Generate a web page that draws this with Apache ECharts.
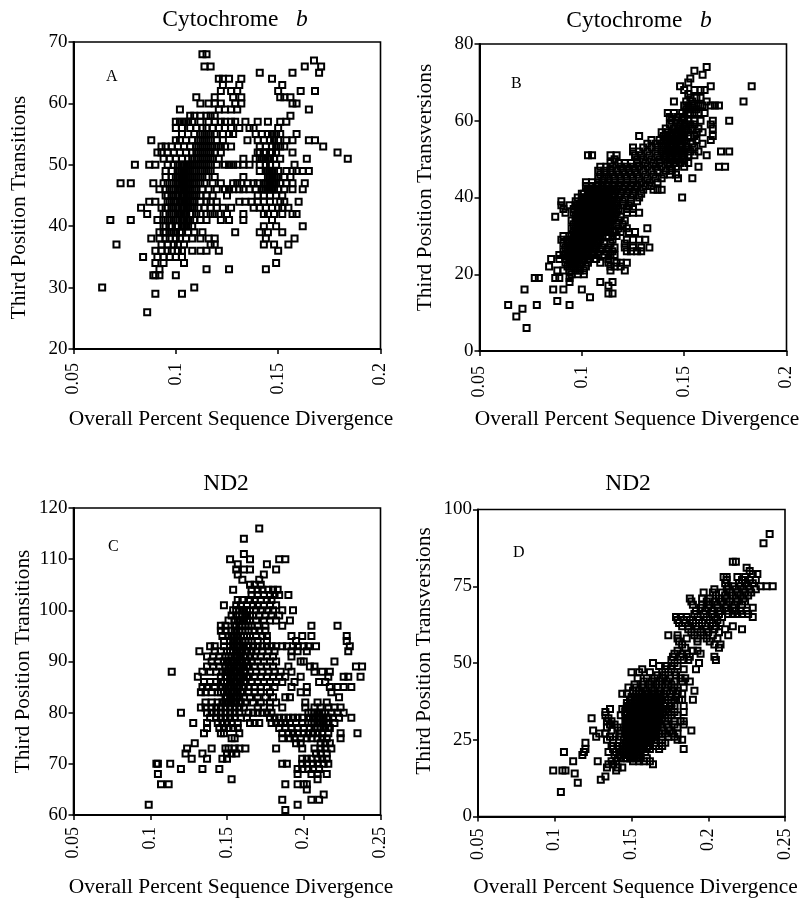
<!DOCTYPE html>
<html><head><meta charset="utf-8">
<style>html,body{margin:0;padding:0;background:#fff}#c{width:800px;height:899px}</style>
<script src="https://cdn.jsdelivr.net/npm/echarts@6/dist/echarts.min.js"></script>
</head><body><div id="c"></div>
<script>
const rowsA=[[68,[.113,.115]],[67,[.1675]],[66,[.114,.117,.163,.171]],[65,[.141,.157,.170]],[64,[.121,.123,.126,.132,.147]],[63,[.123,.131,.152]],[62,[.122,.127,.130,.150,.161,.168]],[61,[.110,.119,.128,.132,.151,.153,.156]],[60,[.112,.116,.119,.122,.129,.132,.157,.159]],[59,[.102,.121,.124,.127,.130,.165]],[58,[.107,.109,.112,.115,.117,.119,.156]],
[57,[.100,.102,.104,.106,.108,.112,.116,.119,.122,.124,.127,.129,.134,.140,.145,.151,.154]],[56,[.100,.103,.107,.110,.113,.115,.118,.121,.124,.127,.131,.136,.138,.150]],[55,[.103,.109,.112,.114,.116,.119,.123,.126,.128,.139,.142,.145,.147,.149,.151,.159]],[54,[.088,.100,.102,.105,.108,.111,.113,.115,.117,.120,.123,.135,.140,.143,.146,.148,.150,.154,.157,.165,.168]],[53,[.093,.095,.098,.101,.104,.107,.110,.112,.114,.116,.118,.120,.122,.124,.127,.141,.144,.147,.149,.151,.153,.172]],[52,[.091,.093,.096,.099,.102,.105,.108,.110,.112,.114,.116,.119,.122,.140,.143,.146,.149,.157,.179]],[51,[.094,.097,.100,.103,.106,.108,.110,.112,.114,.116,.118,.121,.133,.139,.141,.143,.145,.148,.151,.164,.184]],[50,[.080,.087,.090,.096,.099,.101,.103,.105,.107,.109,.111,.113,.115,.117,.120,.124,.126,.128,.130,.133,.136,.141,.144,.146,.149,.158]],[49,[.095,.098,.101,.103,.105,.107,.109,.112,.114,.116,.141,.144,.146,.148,.150,.154,.157,.159,.162,.165]],[48,[.095,.098,.100,.102,.104,.106,.108,.111,.113,.115,.119,.133,.145,.147,.150,.153,.156]],[47,[.073,.078,.089,.094,.096,.098,.101,.103,.105,.107,.109,.112,.114,.118,.122,.128,.130,.132,.135,.138,.140,.143,.145,.147,.149,.151,.154,.157,.163]],[46,[.092,.095,.097,.099,.102,.104,.106,.108,.110,.113,.116,.120,.124,.126,.128,.131,.133,.136,.139,.142,.144,.146,.148,.150,.153,.157,.162]],[45,[.095,.098,.100,.103,.105,.107,.109,.112,.115,.118,.125,.140,.143,.146,.149,.152]],[44,[.087,.090,.096,.098,.100,.103,.105,.107,.109,.112,.115,.117,.120,.131,.134,.137,.140,.143,.146,.151,.153,.160]],[43,[.083,.093,.096,.099,.101,.104,.106,.108,.111,.114,.117,.120,.123,.127,.138,.141,.144,.147,.150,.152,.155]],[42,[.086,.094,.097,.099,.102,.104,.107,.110,.112,.115,.117,.119,.121,.125,.133,.143,.145,.148,.152,.157,.159]],[41,[.068,.078,.091,.094,.096,.099,.101,.104,.106,.109,.112,.115,.122,.126,.133,.147]],[40,[.094,.097,.100,.103,.105,.108,.143,.149,.162]],[39,[.092,.095,.098,.100,.103,.106,.109,.113,.129,.141,.145,.152]],[38,[.088,.092,.095,.097,.100,.102,.105,.108,.112,.116,.119,.144,.158]],[37,[.071,.093,.096,.099,.101,.104,.117,.119,.143,.148,.155]],[36,[.090,.093,.096,.098,.101,.103,.108,.112,.115,.121,.150]],[35,[.084,.091,.094,.097,.100,.103]],[34,[.090,.094,.104,.149]],[33,[.092,.115,.126,.144]],[32,[.089,.090,.092,.100]],[30,[.064,.109]],[29,[.090,.103]],[26,[.086]]];
const coreA=[[55,[.113,.115,.117]],[54,[.112,.114,.116]],[53,[.111,.113,.115,.117]],[52,[.111,.113,.115,.117,.141,.144,.147]],[51,[.111,.113,.115,.117,.142,.144,.146]],[50,[.104,.106,.108,.110,.112,.114,.116]],[49,[.102,.104,.106,.108,.110,.113,.115,.117,.145,.147]],[48,[.101,.103,.105,.107,.109,.110,.112,.146,.148,.149]],[47,[.100,.102,.104,.106,.108,.110,.144,.146,.148]],[46,[.098,.101,.103,.105,.107,.109,.143,.145,.147]],[45,[.096,.099,.101,.104,.106,.108,.110]],[44,[.097,.099,.102,.104,.106,.108]],[43,[.095,.098,.100,.103,.105,.107,.109]],[42,[.095,.098,.101,.103,.105,.108]],[41,[.095,.097,.100,.103,.105,.107]],[40,[.095,.098,.101,.104,.106]],[39,[.094,.097,.099,.102]]];
const rowsB=[[74,[.161]],[73,[.155]],[72,[.159]],[71,[.153]],[70,[.152]],[69,[.148,.163,.183]],[68,[.150,.155,.158,.160]],[67,[.152]],[66,[.153,.156,.158]],[65,[.145,.151,.154,.161,.179]],[64,[.150,.152,.154,.157,.159,.163,.165,.167]],[63,[.151,.153,.156]],[62,[.142,.145,.152,.155,.157,.160]],[61,[.143,.147,.150]],[60,[.144,.146,.149,.152,.155,.158,.164,.172]],[59,[.143,.148,.150,.153,.163]],[58,[.141,.145,.147,.151,.154,.157,.164]],[57,[.139,.142,.144,.148,.150,.156,.159]],[56,[.128,.140,.143,.146,.149,.152,.155,.164]],[55,[.134,.138,.140,.142,.145,.147,.150,.156,.163]],[54,[.132,.136,.139,.141,.144,.148,.151,.154,.159]],[53,[.125,.130,.134,.137,.140,.142,.146,.149,.152,.155]],[52,[.125,.128,.132,.136,.139,.141,.143,.147,.150,.153,.157,.168,.172]],[51,[.103,.105,.114,.117,.126,.129,.133,.137,.140,.143,.146,.149,.152,.155,.161]],[50,[.116,.127,.130,.134,.138,.141,.144,.147,.150]],[49,[.114,.118,.121,.124,.127,.131,.135,.138,.142,.145,.148,.152]],[48,[.109,.112,.115,.119,.122,.125,.128,.132,.136,.139,.143,.146,.150,.157,.167,.170]],[47,[.108,.111,.114,.117,.120,.123,.126,.130,.134,.137,.141,.144]],[46,[.109,.112,.115,.118,.121,.124,.127,.131,.135,.140,.143,.146]],[45,[.108,.111,.113,.116,.119,.122,.125,.128,.132,.136,.139,.147,.154]],[44,[.102,.105,.108,.110,.113,.116,.119,.122,.125,.129,.133,.137]],[43,[.102,.105,.107,.110,.112,.115,.118,.121,.124,.127,.131,.134]],[42,[.103,.106,.108,.111,.114,.117,.120,.123,.126,.130,.135,.137,.139]],[41,[.100,.103,.105,.108,.110,.113,.116,.119,.122,.125,.129]],[40,[.098,.101,.103,.106,.108,.111,.113,.116,.118,.121,.124,.128,.149]],[39,[.090,.097,.100,.102,.105,.107,.110,.112,.115,.117,.120,.124,.127]],[38,[.090,.094,.097,.099,.102,.104,.107,.109,.112,.114,.117,.120,.123]],[37,[.091,.096,.098,.101,.103,.106,.108,.111,.113,.116,.118,.122,.125]],[36,[.092,.096,.099,.102,.104,.107,.109,.112,.114,.117,.122,.125,.128]],[35,[.087,.097,.099,.101,.104,.106,.109,.111,.114,.116,.119]],[34,[.095,.098,.100,.103,.105,.108,.110,.113,.115,.118,.121]],[33,[.096,.099,.101,.104,.106,.109,.111,.114,.117,.120]],[32,[.095,.098,.100,.103,.105,.108,.111,.114,.118,.122,.132]],[31,[.097,.100,.102,.105,.107,.110,.113,.116,.119,.123,.126]],[30,[.091,.094,.097,.099,.102,.104,.107,.110,.113,.115,.117]],[29,[.090,.093,.096,.098,.101,.103,.106,.109,.115,.122,.125,.128,.131]],[28,[.091,.094,.097,.100,.102,.105,.108,.111,.114,.121]],[27,[.092,.095,.098,.101,.104,.107,.110,.113,.116,.121,.125,.129,.133]],[26,[.091,.094,.097,.100,.103,.106,.109,.112,.115,.122,.124,.127,.129]],[25,[.089,.092,.095,.098,.101,.105,.108,.111,.114,.116]],[24,[.085,.089,.092,.095,.098,.101,.104,.107,.113]],[23,[.092,.095,.097,.100,.103,.109,.113,.117,.119,.122]],[22,[.084,.093,.096,.099,.102,.114,.116,.119]],[21,[.088,.091,.094,.097,.099,.101,.114,.121]],[20,[.095,.098,.101]],[19,[.077,.079,.087,.089,.094]],[18,[.094,.109,.115]],[17,[.113]],[16,[.072,.086,.091,.100]],[15,[.113,.115]],[14,[.104]],[13,[.088]],[12,[.064,.078,.094]],[11,[.071]],[9,[.068]],[6,[.073]]];
const coreB=[[64,[.155,.158]],[62,[.149,.153]],[59,[.151,.155]],[58,[.149]],[57,[.146,.152]],[56,[.141,.147,.150]],[54,[.143,.146,.149]],[53,[.144,.148,.151]],[52,[.142,.145,.148]],[51,[.141,.144,.147,.150]],[50,[.143,.146,.149]],[42,[.104,.107,.110,.113,.116]],[41,[.101,.104,.107,.109,.112,.115]],[40,[.100,.102,.105,.107,.110,.112,.115]],[39,[.101,.104,.106,.109,.111,.114]],[38,[.098,.101,.103,.106,.108,.111,.113,.116]],[37,[.100,.102,.105,.107,.110,.112,.115]],[36,[.098,.101,.103,.106,.108,.111,.113,.116]],[35,[.098,.100,.103,.105,.108,.110,.113,.115]],[34,[.097,.099,.102,.104,.107,.109,.112,.114]],[33,[.098,.100,.103,.105,.108,.110,.113]],[32,[.097,.099,.102,.104,.107,.109,.112]],[31,[.096,.099,.101,.104,.106,.109,.112]],[30,[.095,.098,.101,.103,.106,.109]],[29,[.095,.097,.100,.102,.105,.108]],[28,[.093,.096,.099,.101,.104,.107]],[27,[.094,.097,.100,.103,.106]],[26,[.093,.096,.099,.102,.105]],[25,[.094,.097,.100,.103]],[24,[.094,.097,.100,.103]],[23,[.094,.096,.099]],[22,[.095,.098]]];
const rowsC=[[116,[.171]],[114,[.161]],[111,[.161]],[110,[.152,.165,.184,.188]],[109,[.157,.176]],[108,[.156,.161,.165,.182]],[107,[.157,.174]],[106,[.160,.171]],[105,[.165,.168,.172]],[104,[.154,.166,.170,.173,.177,.180,.183]],[103,[.166,.170,.174,.178,.181,.184,.190]],[102,[.157,.160,.165,.168,.172,.176,.179]],[101,[.148,.156,.159,.163,.167,.170,.174,.178,.182]],[100,[.154,.158,.161,.165,.169,.172,.177,.180,.186,.193]],[99,[.153,.156,.160,.163,.167,.171,.175,.179,.184]],[98,[.151,.155,.158,.161,.165,.169,.174,.178,.182,.191]],[97,[.146,.149,.155,.158,.162,.166,.170,.175,.186,.205,.222]],[96,[.146,.149,.153,.156,.160,.164,.168,.171,.175]],[95,[.147,.151,.154,.157,.161,.165,.169,.173,.176,.192,.199,.205,.228]],[94,[.148,.152,.155,.158,.162,.166,.170,.176,.195,.228]],[93,[.139,.142,.148,.152,.155,.158,.161,.164,.167,.170,.173,.176,.179,.182,.186,.189,.193,.196,.200,.203,.208,.230]],[92,[.132,.142,.146,.150,.154,.157,.160,.163,.166,.169,.173,.177,.181,.192,.196,.202,.229]],[91,[.137,.141,.145,.149,.153,.156,.159,.162,.165,.168,.172,.176,.180,.192]],[90,[.140,.144,.148,.151,.154,.157,.160,.163,.166,.170,.174,.178,.182,.198,.200,.220]],[89,[.137,.141,.145,.149,.152,.155,.158,.161,.164,.168,.172,.176,.180,.190,.204,.207,.234,.238]],[88,[.114,.134,.139,.143,.147,.150,.153,.156,.159,.162,.165,.169,.173,.177,.181,.185,.192,.207,.212,.217]],[87,[.131,.146,.149,.152,.155,.158,.161,.164,.168,.172,.176,.180,.184,.188,.198,.216,.226,.229,.237]],[86,[.135,.139,.143,.146,.150,.153,.156,.159,.162,.166,.170,.174,.178,.182,.186,.194,.210,.214]],[85,[.134,.137,.142,.146,.149,.152,.155,.158,.161,.164,.168,.172,.176,.181,.192,.202,.217,.222,.226,.231]],[84,[.133,.136,.140,.144,.148,.151,.154,.157,.160,.164,.168,.172,.178,.198,.202,.218]],[83,[.149,.152,.155,.158,.161,.165,.170,.175,.180,.188,.191,.223]],[82,[.136,.140,.144,.147,.150,.153,.156,.159,.162,.167,.172,.178,.182,.201,.209,.215]],[81,[.133,.136,.140,.143,.146,.149,.152,.155,.158,.161,.170,.174,.178,.186,.201,.207,.211,.216,.220,.224]],[80,[.120,.137,.140,.143,.146,.149,.152,.155,.158,.164,.167,.170,.173,.176,.179,.203,.207,.210,.214,.218,.222,.226]],[79,[.139,.143,.146,.149,.152,.155,.159,.163,.178,.181,.184,.187,.190,.193,.196,.199,.204,.207,.210,.213,.216,.219,.223,.231]],[78,[.128,.137,.144,.147,.150,.153,.157,.165,.168,.171,.179,.182,.185,.188,.191,.195,.199,.203,.207,.210,.213,.216,.220]],[77,[.137,.145,.148,.151,.154,.157,.184,.188,.192,.196,.200,.204,.207,.211,.214,.217]],[76,[.135,.146,.148,.158,.186,.190,.193,.196,.200,.203,.206,.209,.212,.216,.224,.235]],[75,[.153,.155,.186,.191,.194,.198,.202,.205,.209,.212,.215,.224]],[74,[.129,.195,.198,.211,.214,.217]],[73,[.124,.140,.149,.151,.155,.158,.162,.182,.199,.207,.211,.214,.218]],[72,[.123,.134,.150,.153,.156,.208,.211,.215]],[71,[.127,.137,.147,.150,.199,.202,.205,.209,.212,.215]],[70,[.104,.105,.113,.186,.189,.199,.202,.206,.209,.213,.216]],[69,[.120,.134,.145,.196,.199,.203,.206,.210]],[68,[.105,.196,.205,.209,.215]],[67,[.153,.209]],[66,[.107,.112,.188,.196,.200,.202]],[65,[.202]],[64,[.213]],[63,[.186,.205,.210]],[62,[.099,.196]],[61,[.188]]];
const coreC=[[100,[.156,.160,.163]],[99,[.158,.162,.165]],[98,[.157,.160,.163]],[97,[.156,.160,.164]],[96,[.155,.158,.162]],[95,[.153,.156,.159,.163]],[94,[.154,.157,.160,.164]],[93,[.154,.157,.160,.163]],[92,[.152,.156,.159,.162]],[91,[.151,.155,.158,.161]],[90,[.150,.153,.156,.159,.162]],[89,[.151,.154,.157,.160,.163]],[88,[.149,.152,.155,.158,.161]],[87,[.150,.154,.157,.160,.163]],[86,[.148,.152,.155,.158,.161]],[85,[.147,.151,.154,.157,.160]],[84,[.146,.150,.153,.156,.159]],[83,[.150,.153,.156]],[82,[.149,.152,.155,.158]],[80,[.205,.209,.212]],[79,[.206,.209,.212,.215]],[78,[.205,.209,.212,.215]],[77,[.209,.213,.216]]];
const rowsD=[[92,[.240]],[89,[.236]],[83,[.216,.218]],[81,[.225]],[80,[.227]],[79,[.229,.232]],[78,[.210,.212,.219,.224]],[77,[.212,.222,.227,.231]],[76,[.211,.220,.224,.229]],[75,[.213,.216,.221,.226,.234,.238,.242]],[74,[.204,.212,.218,.223,.227,.231]],[73,[.197,.203,.209,.214,.219,.224,.228]],[72,[.205,.211,.216,.221,.226]],[71,[.188,.196,.201,.207,.212,.218,.223]],[70,[.189,.199,.204,.209,.214,.219,.224]],[69,[.190,.196,.201,.206,.212,.217,.222]],[68,[.195,.200,.206,.211,.216,.229]],[67,[.192,.198,.203,.208,.213,.218,.221,.225]],[66,[.191,.197,.202,.207,.213,.216,.219,.222,.226]],[65,[.179,.182,.186,.193,.199,.204,.209,.229]],[64,[.180,.184,.188,.194,.201,.206]],[63,[.181,.185,.190,.196,.203,.208]],[62,[.183,.187,.192,.198,.205,.216]],[61,[.187,.193,.199,.204,.211,.222]],[60,[.189,.195,.200,.207]],[59,[.174,.180,.191,.197,.203,.213]],[58,[.180,.186,.193,.199,.206]],[57,[.181,.193,.201]],[56,[.183,.204,.208]],[55,[.185,.207]],[54,[.180,.190,.193]],[53,[.178,.183,.186,.195]],[52,[.177,.182,.188,.204]],[51,[.176,.184,.187,.205]],[50,[.164,.178,.194]],[49,[.168,.173,.176,.180]],[48,[.157,.172,.176,.184,.192]],[47,[.150,.155,.162,.170,.178]],[46,[.167,.172,.179]],[45,[.154,.160,.165,.170,.175,.182,.185]],[44,[.158,.163,.168,.173,.178,.183,.188]],[43,[.152,.157,.161,.166,.170,.174,.176]],[42,[.148,.153,.158,.163,.168,.172,.178,.184]],[41,[.151,.155,.160,.165,.169,.173,.177,.180,.191]],[40,[.144,.147,.153,.157,.161,.165,.168,.171,.175,.180,.183]],[39,[.150,.154,.158,.162,.166,.169,.172,.176,.179]],[38,[.149,.152,.155,.158,.161,.164,.167,.170,.174,.178,.181,.183,.190]],[37,[.147,.150,.153,.156,.159,.162,.165,.168,.172,.176]],[36,[.148,.151,.154,.157,.160,.163,.166,.169,.172,.175,.178,.184]],[35,[.136,.144,.147,.150,.153,.155,.158,.161,.164,.167,.170,.173,.176]],[34,[.133,.146,.149,.152,.154,.157,.159,.162,.165,.168,.171,.174,.178,.184]],[33,[.133,.143,.146,.149,.151,.153,.155,.158,.160,.163,.166,.169,.172,.176,.180]],[32,[.124,.135,.147,.150,.152,.154,.156,.159,.161,.164,.167,.170,.174]],[31,[.134,.137,.146,.149,.151,.153,.155,.157,.160,.162,.165,.168,.172,.178,.182,.184]],[30,[.136,.139,.147,.149,.152,.154,.156,.158,.161,.163,.166,.169,.173,.178,.184]],[29,[.134,.141,.146,.148,.150,.153,.155,.157,.159,.162,.164,.167,.170,.174,.180]],[28,[.125,.137,.143,.147,.149,.151,.154,.156,.158,.160,.163,.166,.170,.175,.189]],[27,[.129,.133,.142,.146,.149,.151,.153,.155,.157,.160,.162,.165,.168,.172,.177,.180]],[26,[.127,.136,.143,.147,.149,.151,.153,.155,.158,.160,.163,.166,.170,.174,.178]],[25,[.134,.138,.145,.148,.150,.152,.154,.157,.159,.162,.165,.170,.180,.183]],[24,[.120,.138,.146,.149,.151,.153,.155,.158,.161,.165,.172]],[23,[.137,.141,.144,.147,.150,.152,.154,.157,.160,.166,.170]],[22,[.120,.138,.142,.145,.148,.150,.153,.156,.162,.168,.184]],[21,[.106,.119,.135,.140,.143,.146,.149,.152,.155,.159]],[20,[.118,.139,.142,.145,.148,.151,.154]],[19,[.141,.146,.149,.152,.155,.160]],[18,[.112,.128,.137,.140,.151,.155,.158,.162]],[17,[.135,.138,.164]],[16,[.134,.141,.144]],[15,[.099,.105,.107,.140]],[14,[.113]],[13,[.133]],[12,[.130]],[11,[.115]],[8,[.104]]];
const coreD=[[40,[.155,.159,.163,.167]],[39,[.152,.156,.160,.164,.168]],[38,[.150,.153,.156,.159,.162,.165,.169]],[37,[.149,.152,.155,.158,.160,.163,.166]],[36,[.147,.150,.153,.155,.158,.161,.164,.167]],[35,[.146,.149,.151,.154,.156,.159,.162,.165,.168]],[34,[.147,.150,.153,.155,.158,.160,.163,.166]],[33,[.147,.150,.152,.154,.156,.159,.161,.164,.167]],[32,[.148,.151,.153,.155,.157,.160,.162,.165,.168]],[31,[.147,.150,.152,.154,.156,.158,.161,.163,.166]],[30,[.148,.150,.153,.155,.157,.159,.162,.164,.167]],[29,[.147,.149,.151,.154,.156,.158,.160,.163,.165]],[28,[.148,.150,.152,.155,.157,.159,.161,.164]],[27,[.147,.150,.152,.154,.156,.158,.161,.163]],[26,[.148,.150,.152,.154,.156,.159,.161,.164]],[25,[.147,.149,.151,.153,.155,.158,.160,.163]],[24,[.148,.150,.152,.154,.156,.159,.162]],[23,[.148,.151,.153,.155,.158,.161]],[22,[.149,.151,.154,.157,.160]],[21,[.147,.150,.153,.156]],[20,[.146,.149,.152,.155]],[19,[.143,.147,.150,.153]]];

const FONT='"Liberation Serif","Times New Roman",serif';
const xName='Overall Percent Sequence Divergence';
const panels=[
 {rows:rowsA.concat(coreA),letter:'A',title:'cyt',yName:'Third Position Transitions',left:73.5,top:42,xMin:.05,xMax:.2,yMin:20,yMax:70,yStep:10,tx:230,ty:3,lx:112,ly:77,yPad:[0,24,0,0],yGap:44,xGap:60,xMargin:14},
 {rows:rowsB.concat(coreB),letter:'B',title:'cyt',yName:'Third Position Transversions',left:479.5,top:44,xMin:.05,xMax:.2,yMin:0,yMax:80,yStep:20,tx:634,ty:4,lx:517,ly:84,yPad:[0,0,0,20],yGap:44,xGap:58,xMargin:15},
 {rows:rowsC.concat(coreC),letter:'C',title:'ND2',yName:'Third Position Transitions',left:73.5,top:508,xMin:.05,xMax:.25,yMin:60,yMax:120,yStep:10,tx:221,ty:467,lx:114,ly:547,yPad:[0,0,0,0],yGap:40,xGap:62,xMargin:12},
 {rows:rowsD.concat(coreD),letter:'D',title:'ND2',yName:'Third Position Transversions',left:478,top:509.5,xMin:.05,xMax:.25,yMin:0,yMax:100,yStep:25,tx:623,ty:467,lx:519,ly:553,yPad:[0,0,0,24],yGap:43,xGap:60,xMargin:12}
];
const SIZE=307;
const option={animation:false,backgroundColor:'#fff',
 title:panels.map(p=>({left:p.tx,top:p.ty,textAlign:'center',
   text:p.title==='cyt'?'{n|Cytochrome}{s|   }{i|b}':'{n|ND2}',
   textStyle:{fontWeight:'normal',rich:{n:{fontFamily:FONT,fontSize:23.5,fontWeight:'normal',color:'#000'},s:{fontFamily:FONT,fontSize:23.5,fontWeight:'normal'},i:{fontFamily:FONT,fontSize:23.5,fontStyle:'italic',fontWeight:'normal',color:'#000'}}}})),
 grid:panels.map(p=>({left:p.left,top:p.top,width:SIZE,height:SIZE,show:true,borderColor:'#000',borderWidth:1.6,containLabel:false,outerBoundsMode:'none'})),
 xAxis:panels.map((p,i)=>({type:'value',gridIndex:i,min:p.xMin,max:p.xMax,interval:.05,
   name:xName,nameLocation:'middle',nameGap:p.xGap,nameTextStyle:{fontFamily:FONT,fontSize:21.4,color:'#000',padding:[0,0,0,8]},
   axisLine:{show:true,onZero:false,lineStyle:{color:'#000',width:2}},axisTick:{show:true,length:5,lineStyle:{color:'#000',width:1.5}},
   axisLabel:{rotate:90,fontFamily:FONT,fontSize:18,color:'#000',margin:p.xMargin},splitLine:{show:false},showMinLabel:true,showMaxLabel:true})),
 yAxis:panels.map((p,i)=>({type:'value',gridIndex:i,min:p.yMin,max:p.yMax,interval:p.yStep,
   name:p.yName,nameLocation:'middle',nameGap:p.yGap,nameTextStyle:{fontFamily:FONT,fontSize:21.4,color:'#000',padding:p.yPad},
   axisLine:{show:true,onZero:false,lineStyle:{color:'#000',width:2}},axisTick:{show:true,length:5,lineStyle:{color:'#000',width:1.5}},
   axisLabel:{fontFamily:FONT,fontSize:19,color:'#000',margin:6},splitLine:{show:false},showMinLabel:true,showMaxLabel:true})),
 graphic:panels.map(p=>({type:'text',left:p.lx-6,top:p.ly-8,style:{text:p.letter,font:'16px '+FONT,fill:'#000'}})),
 series:panels.map((p,i)=>({type:'scatter',xAxisIndex:i,yAxisIndex:i,symbol:'rect',symbolSize:6,
   itemStyle:{color:'rgba(0,0,0,0)',borderColor:'#000',borderWidth:2,opacity:1},silent:true,
   data:p.rows.flatMap(([y,xs])=>xs.map(x=>[x,y]))}))
};
echarts.init(document.getElementById('c'),null,{renderer:'canvas'}).setOption(option);
</script></body></html>
